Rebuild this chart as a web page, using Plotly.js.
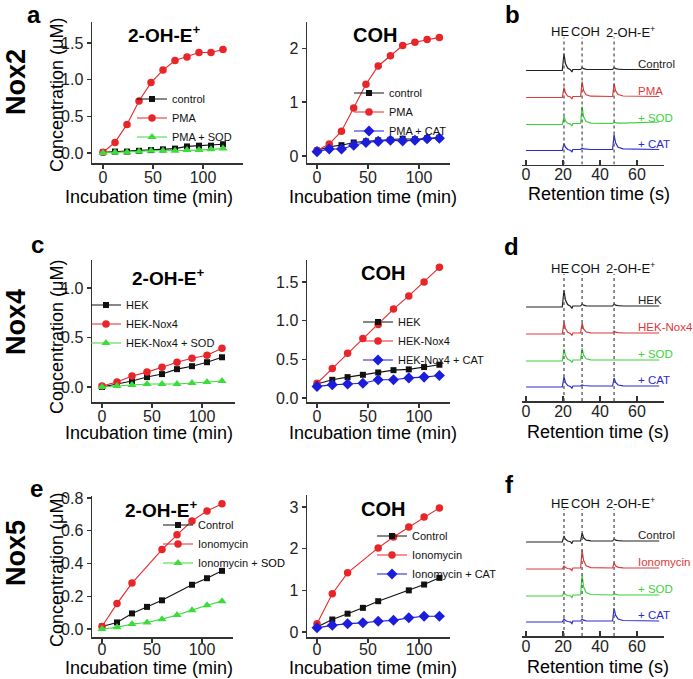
<!DOCTYPE html>
<html>
<head>
<meta charset="utf-8">
<script src="https://cdn.plot.ly/plotly-3.0.1.min.js"></script>
<style>html,body{margin:0;padding:0;background:#fff}</style>
</head>
<body>
<div id="plot" style="width:693px;height:679px"></div>
<script>
// incubation times (min)
let tNox2 = [0, 12, 24, 36, 48, 60, 72, 84, 96, 108, 120]
let tNox4 = [0, 15, 30, 45, 60, 75, 90, 105, 120]
let tNox5Iono = [0, 15, 30, 60, 75, 90, 105, 120]
let tNox5Ctrl = [0, 15, 30, 45, 60, 90, 105, 120]

// Nox2 (uM)
let nox2OhControl = [0.01, 0.02, 0.02, 0.03, 0.04, 0.05, 0.06, 0.09, 0.10, 0.10, 0.12]
let nox2OhPMA = [0.01, 0.145, 0.39, 0.71, 0.96, 1.13, 1.26, 1.31, 1.37, 1.37, 1.41]
let nox2OhSOD = [0.0, 0.01, 0.01, 0.02, 0.03, 0.03, 0.03, 0.04, 0.04, 0.05, 0.06]
let nox2CohControl = [0.1, 0.17, 0.2, 0.25, 0.27, 0.29, 0.3, 0.32, 0.31, 0.33, 0.34]
let nox2CohPMA = [0.1, 0.22, 0.46, 0.89, 1.33, 1.67, 1.86, 2.05, 2.11, 2.16, 2.2]
let nox2CohCAT = [0.08, 0.13, 0.13, 0.2, 0.25, 0.27, 0.29, 0.28, 0.29, 0.32, 0.33]

// Nox4 (uM)
let nox4OhHEK = [0, 0.03, 0.06, 0.1, 0.13, 0.18, 0.21, 0.25, 0.3]
let nox4OhNox4 = [0.01, 0.05, 0.11, 0.15, 0.2, 0.25, 0.29, 0.32, 0.39]
let nox4OhSOD = [0, 0.01, 0.02, 0.03, 0.03, 0.03, 0.04, 0.05, 0.06]
let nox4CohHEK = [0.18, 0.235, 0.27, 0.3, 0.33, 0.36, 0.37, 0.4, 0.43]
let nox4CohNox4 = [0.19, 0.38, 0.58, 0.77, 0.95, 1.15, 1.32, 1.5, 1.69]
let nox4CohCAT = [0.15, 0.17, 0.18, 0.19, 0.235, 0.235, 0.26, 0.27, 0.29]

// Nox5 (uM)
let nox5OhControl = [0.015, 0.04, 0.095, 0.135, 0.175, 0.27, 0.31, 0.355]
let nox5OhIono = [0.015, 0.155, 0.28, 0.485, 0.575, 0.66, 0.72, 0.765]
let nox5OhSOD = [0, 0.01, 0.03, 0.04, 0.06, 0.085, 0.115, 0.145, 0.17]
let nox5CohControl = [0.12, 0.3, 0.44, 0.58, 0.74, 1.0, 1.14, 1.3]
let nox5CohIono = [0.2, 0.92, 1.42, 2.02, 2.28, 2.52, 2.76, 2.98]
let nox5CohCAT = [0.1, 0.16, 0.2, 0.22, 0.26, 0.28, 0.34, 0.38, 0.38]

// chromatograms: retention time (s) and signal (arbitrary units)
let chromT = [0, 19.6, 20.5, 21.3, 22.5, 24, 24.8, 25.3, 29.5, 30.3, 31.1, 32.5, 35, 46.8, 47.6, 48.4, 49.8, 52.5, 72]
let peakTimes = [20.5, 30.3, 47.6]

let nox2Control = [0, 0, 17, 7, 2.5, 0.8, -1.5, 1, 1, 3, 1.8, 1.2, 1, 1, 3, 1.9, 1.3, 1, 1]
let nox2PMA = [0, 0, 10, 4.5, 1.5, 0.5, -1.5, 1, 1, 16, 7, 2.8, 1.3, 1, 14, 6.8, 3, 1.5, 1]
let nox2SOD = [0, 0, 8, 3.6, 1.2, 0.4, -1.5, 1, 1, 18, 7.8, 3, 1.4, 1, 2, 1.6, 1.3, 1.3, 2.5]
let nox2CAT = [0, 0, 7, 3.2, 1, 0.3, -1.5, 1, 1, 2.5, 1.6, 1.2, 1, 1, 16, 7.6, 3.2, 1.6, 1]

let nox4HEK = [0, 0, 17, 7, 2.5, 0.8, -1.5, 1, 1, 3, 1.8, 1.2, 1, 1, 3, 1.9, 1.3, 1, 1]
let nox4Nox4 = [0, 0, 12, 5.4, 1.8, 0.6, -1.5, 1, 1, 11, 5, 2, 1.2, 1, 3, 1.9, 1.3, 1, 1]
let nox4SOD = [0, 0, 12, 5.4, 1.8, 0.6, -1.5, 1, 1, 13, 5.8, 2.2, 1.2, 1, 1, 1, 1, 1, 1]
let nox4CAT = [0, 0, 10, 4.5, 1.5, 0.5, -1.5, 1, 1, 2, 1.5, 1.1, 1, 1, 9, 4.6, 2, 1.2, 1]

let nox5Control = [0, 0, 6, 2.8, 1, 0.3, -1.5, 1, 1, 9, 4.2, 1.8, 1.1, 1, 3, 1.9, 1.3, 1, 1]
let nox5Iono = [0, 0, 3, 1.5, 0.5, 0.2, -1.5, 1, 1, 19, 8.5, 3.2, 1.4, 1, 6, 3.2, 1.7, 1.1, 1]
let nox5SOD = [0, 0, 3, 1.5, 0.5, 0.2, -1.5, 1, 1, 21, 9.2, 3.5, 1.5, 1, 2, 1.5, 1.2, 1, 1]
let nox5CAT = [0, 0, 3, 1.5, 0.5, 0.2, -1.5, 1, 1, 3, 1.8, 1.2, 1, 1, 14, 6.8, 3, 1.5, 1]

const W = 693, H = 679
const BLACK = '#111111', RED = '#e8262a', GREEN = '#3ddc3d', BLUE = '#1c1cdc'
const chromColors = ['#222222', '#e03838', '#3cd23c', '#2a2ad2']
const stackOffsets = [94, 67, 40, 14]

function fx(p) { return p / W }
function fy(p) { return 1 - p / H }
function hdom(a, b) { return [a / W, b / W] }
function vdom(top, bottom) { return [1 - bottom / H, 1 - top / H] }

let data = []

function series(x, y, color, symbol, size, name, n, legend) {
    data.push({
        x: x, y: y, name: name, type: 'scatter', mode: 'lines+markers',
        xaxis: 'x' + n, yaxis: 'y' + n, legend: legend, cliponaxis: false,
        line: {color: color, width: 1.1},
        marker: {color: color, symbol: symbol, size: size}
    })
}

series(tNox2, nox2OhControl, BLACK, 'square', 6, 'control', '', 'legend')
series(tNox2, nox2OhPMA, RED, 'circle', 7.5, 'PMA', '', 'legend')
series(tNox2, nox2OhSOD, GREEN, 'triangle-up', 8, 'PMA + SOD', '', 'legend')

series(tNox2, nox2CohControl, BLACK, 'square', 6, 'control', '2', 'legend2')
series(tNox2, nox2CohPMA, RED, 'circle', 7.5, 'PMA', '2', 'legend2')
series(tNox2, nox2CohCAT, BLUE, 'diamond', 8.5, 'PMA + CAT', '2', 'legend2')

series(tNox4, nox4OhHEK, BLACK, 'square', 6, 'HEK', '4', 'legend3')
series(tNox4, nox4OhNox4, RED, 'circle', 7.5, 'HEK-Nox4', '4', 'legend3')
series(tNox4, nox4OhSOD, GREEN, 'triangle-up', 8, 'HEK-Nox4 + SOD', '4', 'legend3')

series(tNox4, nox4CohHEK, BLACK, 'square', 6, 'HEK', '5', 'legend4')
series(tNox4, nox4CohNox4, RED, 'circle', 7.5, 'HEK-Nox4', '5', 'legend4')
series(tNox4, nox4CohCAT, BLUE, 'diamond', 8.5, 'HEK-Nox4 + CAT', '5', 'legend4')

series(tNox5Ctrl, nox5OhControl, BLACK, 'square', 6, 'Control', '7', 'legend5')
series(tNox5Iono, nox5OhIono, RED, 'circle', 7.5, 'Ionomycin', '7', 'legend5')
series(tNox4, nox5OhSOD, GREEN, 'triangle-up', 8, 'Ionomycin +', '7', 'legend5')

series(tNox5Ctrl, nox5CohControl, BLACK, 'square', 6, 'Control', '8', 'legend6')
series(tNox5Iono, nox5CohIono, RED, 'circle', 7.5, 'Ionomycin', '8', 'legend6')
series(tNox4, nox5CohCAT, BLUE, 'diamond', 8.5, 'Ionomycin + CAT', '8', 'legend6')

// stacked chromatograms
let chromPanels = [
    {n: '3', sig: [nox2Control, nox2PMA, nox2SOD, nox2CAT], labels: ['Control', 'PMA', '+ SOD', '+ CAT']},
    {n: '6', sig: [nox4HEK, nox4Nox4, nox4SOD, nox4CAT], labels: ['HEK', 'HEK-Nox4', '+ SOD', '+ CAT']},
    {n: '9', sig: [nox5Control, nox5Iono, nox5SOD, nox5CAT], labels: ['Control', 'Ionomycin', '+ SOD', '+ CAT']}
]

let shapes = []
let annotations = []

function note(text, x, y, size, extra) {
    annotations.push(Object.assign({
        text: text, x: fx(x), y: fy(y), xref: 'paper', yref: 'paper',
        showarrow: false, xanchor: 'center', yanchor: 'middle',
        font: {size: size, color: '#000'}
    }, extra || {}))
}

chromPanels.forEach(p => {
    p.sig.forEach((s, i) => {
        data.push({
            x: chromT, y: s.map(v => v + stackOffsets[i]), type: 'scatter', mode: 'lines',
            xaxis: 'x' + p.n, yaxis: 'y' + p.n, showlegend: false,
            line: {color: chromColors[i], width: 1.2}
        })
        annotations.push({
            text: p.labels[i], x: 59.5, y: stackOffsets[i] + 7, xref: 'x' + p.n, yref: 'y' + p.n,
            showarrow: false, xanchor: 'left', yanchor: 'middle',
            font: {size: 11.5, color: chromColors[i]}
        })
    })
    peakTimes.forEach(t => {
        shapes.push({type: 'line', xref: 'x' + p.n, yref: 'y' + p.n, x0: t, x1: t, y0: 0, y1: 127,
            line: {color: '#555', width: 1.3, dash: 'dot'}})
    })
    let hdr = [['HE', 18.4, 'center'], ['COH', 32.4, 'center'], ['2-OH-E<sup>+</sup>', 42.2, 'left']]
    hdr.forEach(h => {
        annotations.push({text: h[0], x: h[1], y: 133, xref: 'x' + p.n, yref: 'y' + p.n,
            showarrow: false, xanchor: h[2], yanchor: 'middle', font: {size: 13, color: '#111'}})
    })
})

// panel letters
note('<b>a</b>', 34, 14, 24)
note('<b>b</b>', 512, 14, 24)
note('<b>c</b>', 37, 244, 24)
note('<b>d</b>', 511, 246, 24)
note('<b>e</b>', 36, 488, 24)
note('<b>f</b>', 510, 484, 24)

// row labels
note('<b>Nox2</b>', 16, 82, 27, {textangle: -90})
note('<b>Nox4</b>', 16, 322, 27, {textangle: -90})
note('<b>Nox5</b>', 16, 553, 27, {textangle: -90})

// panel titles
let ohTitle = '<b>2-OH-E<sup>+</sup></b>'
note(ohTitle, 164, 34, 19)
note('<b>COH</b>', 375, 35, 20)
note(ohTitle, 168, 277, 19)
note('<b>COH</b>', 383, 273, 20)
note(ohTitle, 161, 509, 19)
note('<b>COH</b>', 383, 509, 20)

// axis titles
let conc = 'Concentration (\u03bcM)'
note(conc, 57, 95, 18, {textangle: -90})
note(conc, 57, 337, 18, {textangle: -90})
note(conc, 57, 570, 18, {textangle: -90})
let inc = 'Incubation time (min)'
let ret = 'Retention time (s)'
note(inc, 149, 197, 18)
note(inc, 373, 197, 18)
note(ret, 599, 194, 18)
note(inc, 149, 433, 18)
note(inc, 373, 433, 18)
note(ret, 598, 432, 18)
note(inc, 149, 668, 18)
note(inc, 373, 668, 18)
note(ret, 598, 667, 18)

// clipped legend text peeking out beside the COH panel
note('SOD', 273, 563, 11)

let lineAxis = {
    showline: true, linecolor: '#333', linewidth: 1.5, ticks: 'outside', ticklen: 4,
    tickwidth: 1.2, tickcolor: '#333', showgrid: false, zeroline: false,
    tickfont: {size: 16, color: '#222'}, fixedrange: true
}
let xLine = Object.assign({}, lineAxis, {ticklabelstandoff: -5})
let xLow = Object.assign({}, lineAxis, {ticklabelstandoff: -7})
let chromX = Object.assign({}, lineAxis, {ticks: 'inside', ticklen: 5, ticklabelstandoff: -5,
    tickvals: [0, 20, 40, 60], range: [-2.2, 74.6]})
let chromY = {visible: false, range: [0, 145], fixedrange: true}
let xTicks = [0, 50, 100]

function leg(x, y) {
    return {x: fx(x), y: fy(y), xanchor: 'left', yanchor: 'middle', bgcolor: 'rgba(0,0,0,0)',
        font: {size: 11, color: '#111'}, itemwidth: 30, tracegroupgap: 0}
}

let layout = {
    width: W, height: H,
    margin: {l: 0, r: 0, t: 0, b: 0},
    paper_bgcolor: '#fff', plot_bgcolor: 'rgba(0,0,0,0)',
    font: {family: 'Liberation Sans, Arial, sans-serif', color: '#000'},
    showlegend: true,
    xaxis: Object.assign({}, xLine, {domain: hdom(92, 243), range: [-11, 140], tickvals: xTicks, anchor: 'y'}),
    yaxis: Object.assign({}, lineAxis, {domain: vdom(22, 163), range: [-0.136, 1.786], tickvals: [0, 0.5, 1, 1.5], tickformat: '.1f', anchor: 'x'}),
    xaxis2: Object.assign({}, xLine, {domain: hdom(307, 450), range: [-9.8, 130.4], tickvals: xTicks, anchor: 'y2'}),
    yaxis2: Object.assign({}, lineAxis, {domain: vdom(22, 163), range: [-0.131, 2.486], tickvals: [0, 1, 2], anchor: 'x2'}),
    xaxis3: Object.assign({}, chromX, {domain: hdom(522, 664), anchor: 'y3'}),
    yaxis3: Object.assign({}, chromY, {domain: vdom(19.5, 164.5), anchor: 'x3'}),
    xaxis4: Object.assign({}, xLine, {domain: hdom(92, 235), range: [-10, 133], tickvals: xTicks, anchor: 'y4'}),
    yaxis4: Object.assign({}, lineAxis, {domain: vdom(260, 402), range: [-0.152, 1.283], tickvals: [0, 0.5, 1], tickformat: '.1f', anchor: 'x4'}),
    xaxis5: Object.assign({}, xLine, {domain: hdom(307, 450), range: [-9.8, 130.4], tickvals: xTicks, anchor: 'y5'}),
    yaxis5: Object.assign({}, lineAxis, {domain: vdom(260, 402), range: [-0.052, 1.785], tickvals: [0, 0.5, 1, 1.5], tickformat: '.1f', anchor: 'x5'}),
    xaxis6: Object.assign({}, chromX, {domain: hdom(522, 664), anchor: 'y6'}),
    yaxis6: Object.assign({}, chromY, {domain: vdom(256, 401), anchor: 'x6'}),
    xaxis7: Object.assign({}, xLow, {domain: hdom(92, 233), range: [-10, 131], tickvals: xTicks, anchor: 'y7'}),
    yaxis7: Object.assign({}, lineAxis, {domain: vdom(496, 637), range: [-0.049, 0.812], tickvals: [0, 0.2, 0.4, 0.6, 0.8], tickformat: '.1f', anchor: 'x7'}),
    xaxis8: Object.assign({}, xLow, {domain: hdom(307, 450), range: [-9.8, 130.4], tickvals: xTicks, anchor: 'y8'}),
    yaxis8: Object.assign({}, lineAxis, {domain: vdom(495, 637), range: [-0.12, 3.29], tickvals: [0, 1, 2, 3], anchor: 'x8'}),
    xaxis9: Object.assign({}, chromX, {domain: hdom(522, 664), anchor: 'y9'}),
    yaxis9: Object.assign({}, chromY, {domain: vdom(491, 636), anchor: 'x9'}),
    legend: leg(132, 118),
    legend2: leg(349, 112),
    legend3: leg(86, 324),
    legend4: leg(358, 341),
    legend5: leg(158, 544),
    legend6: leg(372, 555),
    shapes: shapes,
    annotations: annotations
}

Plotly.newPlot('plot', data, layout, {displayModeBar: false, staticPlot: true})
</script>
</body>
</html>
